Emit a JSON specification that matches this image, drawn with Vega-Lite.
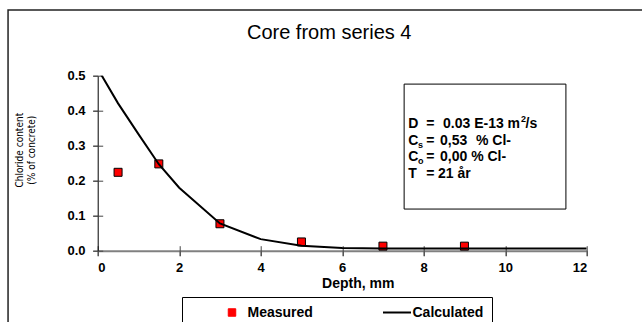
{
  "$schema": "https://vega.github.io/schema/vega-lite/v6.json",
  "width": 489,
  "height": 175,
  "autosize": "none",
  "padding": {"left": 97.7, "top": 75.7, "right": 55.3, "bottom": 71.3},
  "background": "#ffffff",
  "config": {"view": {"stroke": null}, "font": "Liberation Sans"},
  "title": {
    "text": "Core from series 4",
    "font": "Liberation Sans",
    "fontSize": 20,
    "fontWeight": "normal",
    "color": "#000000",
    "anchor": "middle",
    "frame": "group",
    "dx": -13,
    "baseline": "alphabetic",
    "offset": -50
  },
  "datasets": {
    "frame": [{"x1": -2.2, "x2": 14.5, "y1": 0.6877, "y2": -0.4}],
    "box": [{"x1": 7.52, "x2": 11.49, "y1": 0.476, "y2": 0.119}],
    "calculated": [
      {"d": 0, "c": 0.52, "series": "Calculated"},
      {"d": 0.5, "c": 0.421, "series": "Calculated"},
      {"d": 1, "c": 0.333, "series": "Calculated"},
      {"d": 1.5, "c": 0.247, "series": "Calculated"},
      {"d": 2, "c": 0.18, "series": "Calculated"},
      {"d": 3, "c": 0.078, "series": "Calculated"},
      {"d": 4, "c": 0.033, "series": "Calculated"},
      {"d": 5, "c": 0.014, "series": "Calculated"},
      {"d": 6, "c": 0.008, "series": "Calculated"},
      {"d": 7, "c": 0.006, "series": "Calculated"},
      {"d": 8, "c": 0.006, "series": "Calculated"},
      {"d": 9, "c": 0.006, "series": "Calculated"},
      {"d": 10, "c": 0.006, "series": "Calculated"},
      {"d": 11, "c": 0.006, "series": "Calculated"},
      {"d": 12, "c": 0.006, "series": "Calculated"}
    ],
    "measured": [
      {"d": 0.5, "c": 0.224, "series": "Measured"},
      {"d": 1.5, "c": 0.248, "series": "Measured"},
      {"d": 3, "c": 0.077, "series": "Measured"},
      {"d": 5, "c": 0.025, "series": "Measured"},
      {"d": 7, "c": 0.013, "series": "Measured"},
      {"d": 9, "c": 0.013, "series": "Measured"}
    ],
    "notes": [
      {"x": 7.62, "y": 0.362, "t": "D"},
      {"x": 8.06, "y": 0.362, "t": "="},
      {"x": 8.474, "y": 0.362, "t": "0.03 E-13 m"},
      {"x": 10.5, "y": 0.362, "t": "/s"},
      {"x": 7.62, "y": 0.313, "t": "C"},
      {"x": 8.06, "y": 0.313, "t": "="},
      {"x": 8.4, "y": 0.313, "t": "0,53"},
      {"x": 9.284, "y": 0.313, "t": "% Cl-"},
      {"x": 7.62, "y": 0.268, "t": "C"},
      {"x": 8.06, "y": 0.268, "t": "="},
      {"x": 8.4, "y": 0.268, "t": "0,00 % Cl-"},
      {"x": 7.62, "y": 0.219, "t": "T"},
      {"x": 8.06, "y": 0.219, "t": "="},
      {"x": 8.35, "y": 0.219, "t": "21 år"}
    ],
    "subs": [
      {"x": 7.86, "y": 0.313, "t": "s"},
      {"x": 7.86, "y": 0.268, "t": "o"}
    ],
    "sups": [
      {"x": 10.39, "y": 0.362, "t": "2"}
    ]
  },
  "resolve": {"axis": {"x": "independent", "y": "independent"}},
  "layer": [
    {
      "data": {"name": "frame"},
      "mark": {"type": "rect", "fill": "transparent", "stroke": "#222222", "strokeWidth": 1.5},
      "encoding": {
        "x": {"field": "x1", "type": "quantitative", "scale": {"domain": [0, 12], "nice": false}, "axis": null},
        "x2": {"field": "x2"},
        "y": {"field": "y1", "type": "quantitative", "scale": {"domain": [0, 0.5], "nice": false}, "axis": null},
        "y2": {"field": "y2"}
      }
    },
    {
      "data": {"name": "box"},
      "mark": {"type": "rect", "fill": "#ffffff", "stroke": "#000000", "strokeWidth": 1},
      "encoding": {
        "x": {"field": "x1", "type": "quantitative", "scale": {"domain": [0, 12], "nice": false}, "axis": null},
        "x2": {"field": "x2"},
        "y": {"field": "y1", "type": "quantitative", "scale": {"domain": [0, 0.5], "nice": false}, "axis": null},
        "y2": {"field": "y2"}
      }
    },
    {
      "data": {"name": "measured"},
      "mark": {"type": "point", "shape": "square", "filled": true, "size": 64, "stroke": "#000000", "strokeWidth": 1, "opacity": 1},
      "encoding": {
        "x": {
          "field": "d", "type": "quantitative",
          "scale": {"domain": [0, 12], "nice": false},
          "axis": {
            "orient": "bottom", "values": [0, 2, 4, 6, 8, 10, 12], "grid": false,
            "domainColor": "#808080", "domainWidth": 2,
            "tickSize": 5, "tickColor": "#444444", "tickWidth": 1,
            "labelFont": "Liberation Sans", "labelFontSize": 13, "labelFontWeight": "bold", "labelColor": "#000000", "labelPadding": 6,
            "title": "Depth, mm", "titleFont": "Liberation Sans", "titleFontSize": 14, "titleFontWeight": "bold", "titleColor": "#000000",
            "titleX": 260, "titlePadding": 2
          }
        },
        "y": {
          "field": "c", "type": "quantitative",
          "scale": {"domain": [0, 0.5], "nice": false},
          "axis": {
            "orient": "left", "values": [0, 0.1, 0.2, 0.3, 0.4, 0.5], "format": ".1f", "grid": false,
            "domainColor": "#000000", "domainWidth": 1,
            "tickSize": 5, "tickColor": "#444444", "tickWidth": 1,
            "labelFont": "Liberation Sans", "labelFontSize": 13, "labelFontWeight": "bold", "labelColor": "#000000", "labelPadding": 7.7,
            "title": ["Chloride content", "(% of concrete)"],
            "titleFont": "'DejaVu Sans Condensed', 'Liberation Sans Narrow', 'Liberation Sans'", "titleFontSize": 10, "titleFontWeight": "normal", "titleColor": "#000000",
            "titleAngle": -90, "titleAlign": "center", "titleBaseline": "top", "titleLineHeight": 12,
            "titleX": -83, "titleY": 74
          }
        },
        "color": {
          "field": "series", "type": "nominal",
          "scale": {"domain": ["Measured", "Calculated"], "range": ["#ff0000", "#000000"]},
          "legend": {
            "title": null, "orient": "none", "legendX": 84.3, "legendY": 221.3,
            "direction": "horizontal", "columns": 2, "padding": 8.5,
            "strokeColor": "#000000", "fillColor": "#ffffff",
            "symbolSize": 100, "symbolOffset": 34.5, "labelOffset": 8.5, "columnPadding": 42,
            "labelFont": "Liberation Sans", "labelFontSize": 14, "labelFontWeight": "bold", "labelColor": "#000000",
            "labelExpr": "datum.label == 'Calculated' ? datum.label + '       ' : datum.label",
            "encode": {
              "symbols": {
                "update": {
                  "shape": {"signal": "datum.value === 'Measured' ? 'square' : 'stroke'"},
                  "size": {"signal": "datum.value === 'Measured' ? 56 : 784"},
                  "fill": {"signal": "datum.value === 'Measured' ? '#ff0000' : 'transparent'"},
                  "stroke": {"value": "#000000"},
                  "strokeWidth": {"signal": "datum.value === 'Measured' ? 1 : 2"},
                  "opacity": {"value": 1}
                }
              }
            }
          }
        }
      }
    },
    {
      "data": {"name": "calculated"},
      "mark": {"type": "line", "clip": true, "strokeWidth": 2},
      "encoding": {
        "x": {
          "field": "d", "type": "quantitative",
          "scale": {"domain": [0, 12], "nice": false},
          "axis": {"orient": "bottom", "values": [0, 2, 4, 6, 8, 10, 12], "labels": false, "domain": false, "grid": false, "title": null, "tickSize": 10, "offset": -5, "tickColor": "#444444"}
        },
        "y": {
          "field": "c", "type": "quantitative",
          "scale": {"domain": [0, 0.5], "nice": false},
          "axis": {"orient": "left", "values": [0, 0.1, 0.2, 0.3, 0.4, 0.5], "labels": false, "domain": false, "grid": false, "title": null, "tickSize": 10, "offset": -5, "tickColor": "#444444"}
        },
        "color": {
          "field": "series", "type": "nominal",
          "scale": {"domain": ["Measured", "Calculated"], "range": ["#ff0000", "#000000"]},
          "legend": {
            "title": null, "orient": "none", "legendX": 84.3, "legendY": 221.3,
            "direction": "horizontal", "columns": 2, "padding": 8.5,
            "strokeColor": "#000000", "fillColor": "#ffffff",
            "symbolSize": 100, "symbolOffset": 34.5, "labelOffset": 8.5, "columnPadding": 42,
            "labelFont": "Liberation Sans", "labelFontSize": 14, "labelFontWeight": "bold", "labelColor": "#000000",
            "labelExpr": "datum.label == 'Calculated' ? datum.label + '       ' : datum.label",
            "encode": {
              "symbols": {
                "update": {
                  "shape": {"signal": "datum.value === 'Measured' ? 'square' : 'stroke'"},
                  "size": {"signal": "datum.value === 'Measured' ? 56 : 784"},
                  "fill": {"signal": "datum.value === 'Measured' ? '#ff0000' : 'transparent'"},
                  "stroke": {"value": "#000000"},
                  "strokeWidth": {"signal": "datum.value === 'Measured' ? 1 : 2"},
                  "opacity": {"value": 1}
                }
              }
            }
          }
        }
      }
    },
    {
      "data": {"name": "notes"},
      "mark": {"type": "text", "align": "left", "baseline": "middle", "font": "Liberation Sans", "fontSize": 14, "fontWeight": "bold", "color": "#000000"},
      "encoding": {
        "x": {"field": "x", "type": "quantitative", "scale": {"domain": [0, 12], "nice": false}, "axis": null},
        "y": {"field": "y", "type": "quantitative", "scale": {"domain": [0, 0.5], "nice": false}, "axis": null},
        "text": {"field": "t"}
      }
    },
    {
      "data": {"name": "subs"},
      "mark": {"type": "text", "align": "left", "baseline": "middle", "font": "Liberation Sans", "fontSize": 9, "fontWeight": "bold", "color": "#000000", "dy": 4},
      "encoding": {
        "x": {"field": "x", "type": "quantitative", "scale": {"domain": [0, 12], "nice": false}, "axis": null},
        "y": {"field": "y", "type": "quantitative", "scale": {"domain": [0, 0.5], "nice": false}, "axis": null},
        "text": {"field": "t"}
      }
    },
    {
      "data": {"name": "sups"},
      "mark": {"type": "text", "align": "left", "baseline": "middle", "font": "Liberation Sans", "fontSize": 9, "fontWeight": "bold", "color": "#000000", "dy": -5},
      "encoding": {
        "x": {"field": "x", "type": "quantitative", "scale": {"domain": [0, 12], "nice": false}, "axis": null},
        "y": {"field": "y", "type": "quantitative", "scale": {"domain": [0, 0.5], "nice": false}, "axis": null},
        "text": {"field": "t"}
      }
    }
  ]
}
